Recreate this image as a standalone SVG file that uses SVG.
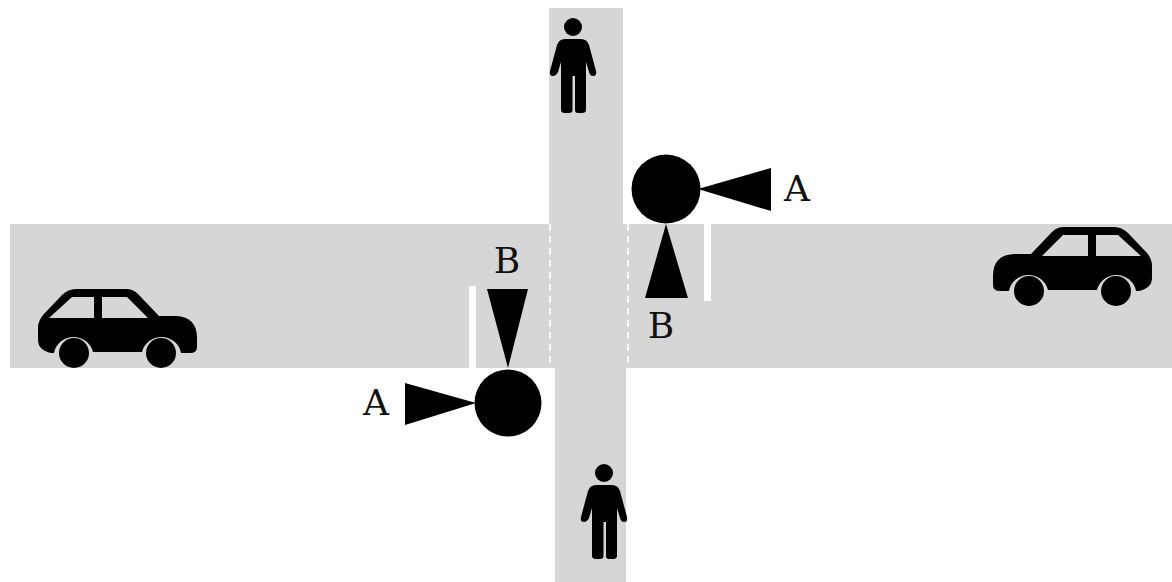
<svg xmlns="http://www.w3.org/2000/svg" width="1172" height="582" viewBox="0 0 1172 582">
  <style>
    .road { fill: #d6d6d6; }
    .stop { fill: #ffffff; }
    .cross { stroke: #ffffff; stroke-width: 2; stroke-dasharray: 7 5; stroke-opacity: 0.85; fill: none; }
    .solid { fill: #000000; }
    .label { font-family: "DejaVu Serif", "Liberation Serif", serif; font-size: 36px; fill: #111111; text-anchor: middle; }
  </style>
  <defs>
    <!-- Side-on car facing right; the window cut-outs let the road show through -->
    <g id="car">
      <path class="solid" fill-rule="evenodd" d="M38 328 Q38 321 43 315 L62 295 Q68 289 76 289 L126 289 Q133 289 138 294 L159 316 L176 316 Q197 317 197 338 L197 347 Q197 353 190 353 L181 353 A20 20 0 0 0 142 352 L93 352 A20 20 0 0 0 54 353 L51 353 Q38 350 38 340 Z M49 318 L72 297 L94 297 L94 318 Z M102 297 L127 297 L148 318 L102 318 Z"/>
      <circle class="solid" cx="74" cy="353" r="15"/>
      <circle class="solid" cx="161" cy="353" r="15"/>
    </g>
    <!-- Standing pedestrian -->
    <g id="person">
      <circle class="solid" cx="573" cy="27" r="9"/>
      <path class="solid" d="M565 39 L581 39 Q587 39 589 45 L596 71 Q597 76 593 76 Q590 76 589 72 L586 62 L586 110 Q586 113 582 113 L578 113 Q575 113 575 110 L575 76 L572.500 76 L572.500 110 Q572.500 113 569 113 L565 113 Q561 113 561 110 L561 62 L558 72 Q556 76 553 76 Q549 76 550 71 L557 45 Q559 39 565 39 Z"/>
    </g>
  </defs>

  <g id="roads">
    <rect class="road" x="10" y="224" width="1162" height="144"/>
    <rect class="road" x="549" y="8" width="74" height="216"/>
    <rect class="road" x="549" y="224" width="77" height="144"/>
    <rect class="road" x="555" y="368" width="71" height="214"/>
  </g>

  <g id="markings">
    <rect class="stop" x="704" y="224" width="7" height="77"/>
    <rect class="stop" x="469" y="286" width="7" height="82"/>
    <line class="cross" x1="550" y1="224" x2="550" y2="368"/>
    <line class="cross" x1="628" y1="224" x2="628" y2="368"/>
  </g>

  <g id="car-west"><use href="#car"/></g>
  <g id="car-east"><use href="#car" transform="translate(1190 -62) scale(-1 1)"/></g>
  <g id="person-north"><use href="#person"/></g>
  <g id="person-south"><use href="#person" transform="translate(31 446)"/></g>

  <g id="signal-northeast">
    <circle class="solid" cx="666" cy="189" r="34.500"/>
    <polygon class="solid" points="698,189 771,168 771,211"/>
    <polygon class="solid" points="666,224 688,298 645,298"/>
    <text class="label" x="797" y="201">A</text>
    <text class="label" x="661" y="338">B</text>
  </g>

  <g id="signal-southwest">
    <circle class="solid" cx="508" cy="403" r="33.500"/>
    <polygon class="solid" points="476,403 405,383 405,425"/>
    <polygon class="solid" points="508,368 487,289 528,289"/>
    <text class="label" x="376" y="415">A</text>
    <text class="label" x="507" y="273">B</text>
  </g>
</svg>
